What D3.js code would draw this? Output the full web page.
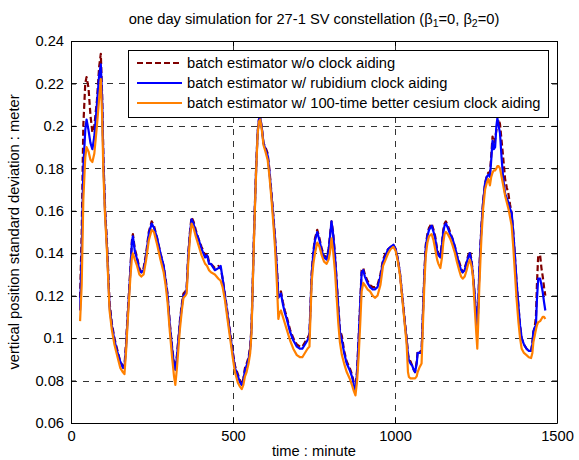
<!DOCTYPE html>
<html>
<head>
<meta charset="utf-8">
<script src="https://cdn.jsdelivr.net/npm/d3@7"></script>
<style>
  body { margin: 0; background: #fff; }
  svg { display: block; font-family: "Liberation Sans", Arial, sans-serif; }
</style>
</head>
<body>
<svg></svg>
<script>

// time axis (minutes) shared by the three curves
var minutes = [28,33,38,44,48,54,60,66,72,80,
    87,92,96,100,105,111,119,126,134,142,
    152,160,165,170,175,183,188,191,197,204,
    211,217,224,232,240,249,256,266,276,286,
    292,298,305,312,318,322,327,336,342,347,
    353,357,362,367,372,378,385,393,403,414,
    420,426,432,444,455,462,468,475,483,491,
    499,506,515,522,527,532,537,542,548,553,
    557,560,564,568,572,576,580,584,589,594,
    600,607,612,619,625,630,636,640,644,648,
    654,660,666,676,686,697,707,714,722,730,
    736,739,743,748,753,760,767,774,781,789,
    795,799,804,809,815,820,825,830,836,843,
    851,860,867,873,878,883,888,893,897,902,
    907,915,923,931,938,946,955,963,971,979,
    987,995,1002,1009,1015,1021,1026,1031,1036,1040,
    1043,1048,1053,1058,1062,1067,1070,1075,1082,1087,
    1091,1095,1100,1105,1113,1119,1124,1130,1134,1140,
    1145,1149,1153,1157,1163,1170,1177,1185,1191,1198,
    1204,1209,1215,1221,1226,1231,1236,1240,1244,1247,
    1251,1254,1257,1260,1264,1267,1272,1278,1283,1288,
    1293,1297,1301,1305,1309,1313,1316,1320,1324,1329,
    1334,1340,1345,1350,1355,1360,1365,1370,1375,1381,
    1386,1391,1398,1406,1413,1420,1424,1427,1431,1435,
    1438,1442,1448,1452,1456,1460,1464]

// batch estimator w/o clock aiding
var noAiding = [.119,.150,.200,.220,.223,.218,.205,.197,.200,.212,
    .228,.234,.215,.185,.162,.145,.117,.107,.100,.095,
    .089,.087,.087,.098,.112,.132,.146,.149,.142,.138,
    .133,.131,.133,.140,.150,.155,.153,.147,.140,.134,
    .128,.121,.107,.096,.088,.086,.092,.108,.116,.121,
    .122,.124,.140,.150,.157,.155,.151,.147,.143,.139,
    .140,.136,.135,.133,.134,.133,.128,.121,.112,.103,
    .094,.087,.083,.080,.078,.081,.086,.088,.091,.096,
    .105,.121,.145,.165,.183,.197,.203,.204,.199,.192,
    .190,.187,.180,.168,.157,.147,.132,.120,.121,.122,
    .117,.113,.110,.104,.100,.097,.096,.096,.098,.100,
    .102,.115,.131,.141,.147,.151,.147,.142,.139,.138,
    .142,.148,.155,.150,.139,.127,.115,.104,.101,.094,
    .089,.086,.083,.079,.076,.085,.101,.118,.132,.133,
    .130,.127,.125,.124,.124,.125,.130,.137,.140,.142,
    .143,.144,.142,.137,.131,.122,.115,.107,.100,.093,
    .090,.089,.087,.085,.084,.089,.094,.094,.093,.116,
    .132,.144,.149,.152,.154,.151,.148,.142,.140,.139,
    .145,.151,.154,.155,.153,.150,.147,.143,.139,.136,
    .133,.131,.133,.136,.139,.141,.137,.131,.124,.118,
    .110,.104,.115,.131,.145,.153,.165,.173,.176,.178,
    .178,.186,.195,.192,.194,.198,.200,.203,.201,.193,
    .185,.1747,.171,.168,.163,.159,.150,.139,.127,.115,
    .106,.100,.097,.095,.094,.094,.098,.103,.105,.110,
    .125,.139,.139,.133,.129,.124,.120]

// batch estimator w/ rubidium clock aiding
var rubidium = [.113,.140,.180,.198,.203,.198,.192,.189,.195,.210,
    .224,.229,.213,.183,.160,.143,.115,.106,.099,.094,
    .089,.086,.086,.096,.110,.131,.145,.148,.141,.137,
    .132,.131,.132,.139,.149,.154,.152,.147,.140,.134,
    .127,.120,.106,.095,.087,.085,.091,.107,.115,.120,
    .121,.123,.139,.149,.156,.154,.150,.147,.142,.138,
    .139,.135,.135,.132,.133,.134,.128,.120,.111,.102,
    .093,.086,.082,.079,.078,.080,.085,.087,.090,.095,
    .104,.120,.144,.164,.182,.197,.203,.204,.199,.192,
    .189,.186,.179,.167,.156,.146,.131,.119,.120,.121,
    .116,.112,.109,.103,.099,.096,.095,.095,.097,.099,
    .101,.114,.130,.140,.146,.150,.146,.141,.138,.137,
    .141,.147,.155,.149,.138,.126,.114,.103,.099,.093,
    .088,.085,.082,.078,.075,.084,.100,.117,.131,.132,
    .129,.126,.124,.123,.123,.124,.129,.136,.139,.142,
    .143,.144,.142,.137,.131,.122,.114,.106,.099,.092,
    .0895,.088,.087,.085,.084,.088,.093,.093,.093,.115,
    .131,.143,.148,.151,.153,.150,.147,.141,.139,.138,
    .144,.150,.153,.154,.152,.149,.147,.143,.139,.135,
    .132,.131,.132,.1356,.138,.140,.136,.131,.124,.118,
    .110,.104,.115,.131,.144,.153,.164,.173,.176,.177,
    .176,.184,.193,.189,.190,.200,.2036,.200,.1966,.185,
    .175,.168,.166,.164,.161,.159,.150,.139,.127,.115,
    .106,.100,.097,.095,.094,.094,.097,.103,.105,.106,
    .118,.128,.128,.125,.1216,.117,.113]

// batch estimator w/ 100-time better cesium clock aiding
var cesium = [.108,.125,.165,.185,.190,.188,.184,.183,.187,.200,
    .213,.222,.205,.178,.158,.141,.113,.104,.097,.092,
    .086,.084,.083,.094,.108,.128,.138,.140,.137,.134,
    .130,.129,.130,.137,.146,.151,.150,.144,.137,.131,
    .125,.117,.103,.091,.082,.078,.086,.104,.113,.119,
    .120,.121,.136,.147,.154,.152,.148,.144,.139,.135,
    .134,.132,.131,.130,.128,.127,.124,.118,.109,.100,
    .091,.084,.079,.077,.076,.078,.082,.084,.088,.093,
    .102,.119,.142,.163,.181,.196,.202,.203,.198,.191,
    .188,.184,.177,.165,.153,.142,.124,.109,.112,.113,
    .110,.107,.104,.099,.095,.092,.091,.091,.093,.095,
    .096,.110,.127,.135,.140,.145,.143,.139,.136,.135,
    .137,.140,.147,.141,.131,.119,.107,.098,.092,.088,
    .084,.081,.078,.075,.073,.080,.092,.108,.122,.126,
    .125,.123,.122,.120,.119,.120,.125,.134,.137,.140,
    .142,.143,.141,.136,.130,.121,.113,.105,.097,.084,
    .0817,.081,.081,.081,.081,.082,.084,.086,.088,.110,
    .127,.139,.145,.148,.149,.146,.142,.137,.135,.133,
    .138,.145,.149,.150,.149,.147,.144,.140,.136,.132,
    .129,.128,.129,.132,.135,.137,.134,.130,.120,.112,
    .102,.095,.108,.123,.138,.148,.161,.170,.173,.175,
    .172,.176,.178,.179,.179,.180,.181,.181,.180,.176,
    .172,.167,.164,.161,.157,.153,.143,.131,.119,.1075,
    .100,.095,.093,.092,.091,.0906,.093,.098,.101,.104,
    .106,.1075,.108,.109,.110,.110,.109]

var xTicks = [0, 500, 1000, 1500]
var yTicks = [0.06, 0.08, 0.1, 0.12, 0.14, 0.16, 0.18, 0.2, 0.22, 0.24]

var legendNames = ["batch estimator w/o clock aiding",
    "batch estimator w/ rubidium clock aiding",
    "batch estimator w/ 100-time better cesium clock aiding"]

var screen = {width: 579, height: 460}
var margins = {top: 41, right: 22, bottom: 37, left: 71}
var fontSize = 14.7

var svg = d3.select("svg")
    .attr("width", screen.width)
    .attr("height", screen.height)

var xScale = d3.scaleLinear()
    .domain([0, 1500])
    .range([margins.left, screen.width - margins.right])

var yScale = d3.scaleLinear()
    .domain([0.06, 0.24])
    .range([screen.height - margins.bottom, margins.top])

var series = [
    {name: legendNames[0], values: noAiding, color: "#800000", dash: "6,3"},
    {name: legendNames[1], values: rubidium, color: "#0000ff", dash: null},
    {name: legendNames[2], values: cesium, color: "#ff8000", dash: null}
]

// dashed grid
var grid = svg.append("g").attr("id", "grid")
    .attr("stroke", "#333")
    .attr("stroke-width", 1)
    .attr("stroke-dasharray", "6,6")

grid.selectAll("line.v")
    .data(xTicks.slice(1, -1))
    .enter()
    .append("line")
    .attr("x1", function(d){return Math.round(xScale(d)) + 0.5})
    .attr("x2", function(d){return Math.round(xScale(d)) + 0.5})
    .attr("y1", yScale.range()[0])
    .attr("y2", yScale.range()[1])

grid.selectAll("line.h")
    .data(yTicks.slice(1, -1))
    .enter()
    .append("line")
    .attr("y1", function(d){return Math.round(yScale(d)) + 0.5})
    .attr("y2", function(d){return Math.round(yScale(d)) + 0.5})
    .attr("x1", xScale.range()[0])
    .attr("x2", xScale.range()[1])

// curves
var lineGenerator = function(values)
{
    return d3.line()
        .x(function(d, i){return xScale(minutes[i])})
        .y(function(d){return yScale(d)})(values)
}

svg.append("g").attr("id", "graph")
    .selectAll("path")
    .data(series)
    .enter()
    .append("path")
    .attr("d", function(s){return lineGenerator(s.values)})
    .attr("fill", "none")
    .attr("stroke", function(s){return s.color})
    .attr("stroke-width", 2.2)
    .attr("stroke-linejoin", "round")
    .attr("stroke-dasharray", function(s){return s.dash})

// axes, ticks pointing inward like matlab
var fmt = function(d){return String(+d.toFixed(2))}

svg.append("g")
    .attr("transform", "translate(0," + yScale.range()[0] + ")")
    .call(d3.axisBottom(xScale).tickValues(xTicks).tickSize(-5).tickSizeOuter(0).tickPadding(8).tickFormat(fmt))
svg.append("g")
    .attr("transform", "translate(0," + yScale.range()[1] + ")")
    .call(d3.axisTop(xScale).tickValues(xTicks).tickSize(-5).tickSizeOuter(0).tickFormat(""))
svg.append("g")
    .attr("transform", "translate(" + xScale.range()[0] + ",0)")
    .call(d3.axisLeft(yScale).tickValues(yTicks).tickSize(-5).tickSizeOuter(0).tickPadding(7).tickFormat(fmt))
svg.append("g")
    .attr("transform", "translate(" + xScale.range()[1] + ",0)")
    .call(d3.axisRight(yScale).tickValues(yTicks).tickSize(-5).tickSizeOuter(0).tickFormat(""))

svg.selectAll(".tick text")
    .attr("font-family", "Liberation Sans, Arial, sans-serif")
    .attr("font-size", fontSize)
    .attr("fill", "#000")
svg.selectAll(".domain").attr("stroke", "#000")

// legend
var legend = svg.append("g").attr("id", "legend")
legend.append("rect")
    .attr("x", 128.5).attr("y", 50.5)
    .attr("width", 420).attr("height", 67)
    .attr("fill", "#fff").attr("stroke", "#000")

var rows = legend.selectAll("g.row")
    .data(series)
    .enter()
    .append("g")
    .attr("transform", function(s, i){return "translate(0," + (63 + i * 20) + ")"})

rows.append("line")
    .attr("x1", 137).attr("x2", 182)
    .attr("stroke", function(s){return s.color})
    .attr("stroke-width", 2.2)
    .attr("stroke-dasharray", function(s){return s.dash})
rows.append("text")
    .attr("x", 187).attr("dy", "0.35em")
    .attr("font-size", fontSize)
    .text(function(s){return s.name})

// title and axis labels
var title = svg.append("text")
    .attr("x", (xScale.range()[0] + xScale.range()[1]) / 2)
    .attr("y", 24)
    .attr("text-anchor", "middle")
    .attr("font-size", fontSize)
title.append("tspan").text("one day simulation for 27-1 SV constellation (\u03b2")
title.append("tspan").attr("baseline-shift", "-25%").attr("font-size", 10.5).text("1")
title.append("tspan").text("=0, \u03b2")
title.append("tspan").attr("baseline-shift", "-25%").attr("font-size", 10.5).text("2")
title.append("tspan").text("=0)")

svg.append("text")
    .attr("x", (xScale.range()[0] + xScale.range()[1]) / 2)
    .attr("y", 456)
    .attr("text-anchor", "middle")
    .attr("font-size", fontSize)
    .text("time : minute")

svg.append("text")
    .attr("transform", "translate(19," + ((yScale.range()[0] + yScale.range()[1]) / 2) + ") rotate(-90)")
    .attr("text-anchor", "middle")
    .attr("font-size", fontSize)
    .text("vertical position standard deviation : meter")

</script>
</body>
</html>
